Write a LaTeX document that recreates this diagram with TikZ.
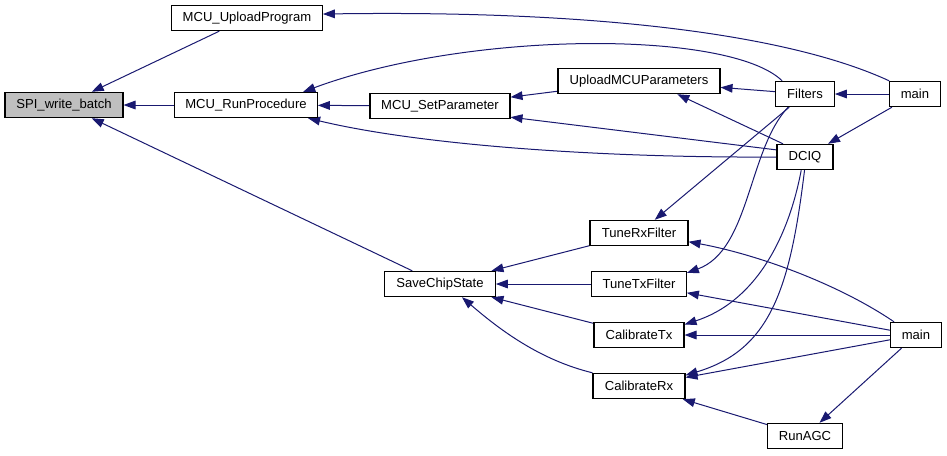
\documentclass[tikz,border=0pt]{standalone}
\usepackage{fontspec}
\setmainfont{Liberation Sans}
\usetikzlibrary{arrows.meta,backgrounds}
\definecolor{edgeblue}{HTML}{191970}

\begin{document}
\begin{tikzpicture}[
  x=0.75pt, y=-0.75pt,
  font=\fontsize{9.8}{12}\selectfont,
  fn/.style={rectangle, draw, fill=white, line width=0.8pt,
    minimum height=19pt, inner sep=0pt},
  root/.style={fn, fill=black!25},
  arr/.style={-{Triangle[length=9pt,width=6.5pt]}, edgeblue, line width=0.75pt}
]
\useasboundingbox (0,0) rectangle (947,455);

\node[root, minimum width=88.5pt] (spi) at (64,105) {SPI\_write\_batch};
\node[fn, minimum width=113pt] (upl) at (247,18) {MCU\_UploadProgram};
\node[fn, minimum width=107pt] (runp) at (246,105) {MCU\_RunProcedure};
\node[fn, minimum width=105pt] (setp) at (440,106) {MCU\_SetParameter};
\node[fn, minimum width=121.5pt] (ump) at (639,81) {UploadMCUParameters};
\node[fn, minimum width=44pt] (filt) at (805,94) {Filters};
\node[fn, minimum width=38pt] (main1) at (915,94) {main};
\node[fn, minimum width=42pt] (dciq) at (805,157) {DCIQ};
\node[fn, minimum width=83pt] (save) at (440,284) {SaveChipState};
\node[fn, minimum width=73.5pt] (tunerx) at (639,233) {TuneRxFilter};
\node[fn, minimum width=71pt] (tunetx) at (639,284) {TuneTxFilter};
\node[fn, minimum width=67.5pt] (caltx) at (639,335) {CalibrateTx};
\node[fn, minimum width=69pt] (calrx) at (639,386) {CalibrateRx};
\node[fn, minimum width=38pt] (main2) at (916,335) {main};
\node[fn, minimum width=56pt] (agc) at (805,436) {RunAGC};

\begin{scope}[on background layer]
\draw[arr] (upl) -- (spi);
\draw[arr] (runp) -- (spi);
\draw[arr] (save) -- (spi);
\draw[arr] (main1.north west) .. controls (790,35) and (600,10) .. (upl.3);
\draw[arr] (filt.150) .. controls (730,30) and (470,30) .. (runp.13);
\draw[arr] (setp) -- (runp);
\draw[arr] (dciq.west) .. controls (600,158) and (420,145) .. (runp.-12);
\draw[arr] (ump) -- (setp);
\draw[arr] (dciq.166) -- (setp.-9);
\draw[arr] (filt) -- (ump);
\draw[arr] (dciq.149) -- (ump.-19);
\draw[arr] (main1) -- (filt);
\draw[arr] (main1) -- (dciq);
\draw[arr] (filt) -- (tunerx);
\draw[arr] (filt.218) .. controls (748,150) and (750,250) .. (tunetx.13);
\draw[arr] (dciq.-106) .. controls (790,230) and (760,300) .. (caltx.13);
\draw[arr] (dciq.-92) .. controls (790,290) and (770,350) .. (calrx.13);
\draw[arr] (tunerx) -- (save);
\draw[arr] (tunetx) -- (save);
\draw[arr] (caltx) -- (save);
\draw[arr] (calrx.north west) .. controls (540,360) and (500,330) .. (save.-31);
\draw[arr] (main2.149) .. controls (840,285) and (760,255) .. (tunerx.-10);
\draw[arr] (main2) -- (tunetx);
\draw[arr] (main2) -- (caltx);
\draw[arr] (main2) -- (calrx);
\draw[arr] (main2) -- (agc);
\draw[arr] (agc) -- (calrx);
\end{scope}
\end{tikzpicture}
\end{document}
